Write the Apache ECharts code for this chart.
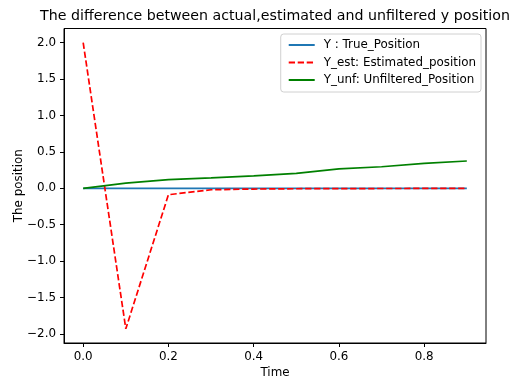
<!DOCTYPE html>
<html>
<head>
<meta charset="utf-8">
<script src="https://cdn.jsdelivr.net/npm/echarts@6/dist/echarts.min.js"></script>
<style>
html,body{margin:0;padding:0;background:#fff;}
#chart{width:511px;height:378px;}
</style>
</head>
<body>
<div id="chart"></div>
<script>
var times = [0.0, 0.1, 0.2, 0.3, 0.4, 0.5, 0.6, 0.7, 0.8, 0.9];
var yTrue = [0, 0, 0, 0, 0, 0, 0, 0, 0, 0];
var yEst = [2.0, -1.93, -0.088, -0.02, -0.01, -0.006, -0.004, -0.003, -0.002, -0.002];
var yUnf = [0.0, 0.072, 0.12, 0.144, 0.171, 0.204, 0.268, 0.296, 0.343, 0.375];
var xTicks = [0.0, 0.2, 0.4, 0.6, 0.8];
var yTicks = [-2.0, -1.5, -1.0, -0.5, 0.0, 0.5, 1.0, 1.5, 2.0];
var seriesNames = ['Y : True_Position', 'Y_est: Estimated_position', 'Y_unf: Unfiltered_Position'];

function pairs(ys){ return times.map(function(t,i){ return [t, ys[i]]; }); }
function fmt(v){ var s = Math.abs(v).toFixed(1); return (v < -1e-9 ? '\u2212' : '') + s; }

var font = 'DejaVu Sans';
var chart = echarts.init(document.getElementById('chart'), null, {renderer:'canvas'});
chart.setOption({
  animation: false,
  backgroundColor: '#fff',
  title: {
    text: 'The difference between actual,estimated and unfiltered y position',
    left: 275, textAlign: 'center', top: 9, padding: 0,
    textStyle: {fontFamily: font, fontSize: 14.2, fontWeight: 'normal', color: '#000'}
  },
  legend: {
    orient: 'vertical', right: 30, top: 34,
    data: seriesNames,
    itemWidth: 26, itemHeight: 10, itemGap: 5.5,
    padding: [5, 5, 6, 7],
    backgroundColor: 'rgba(255,255,255,0.8)',
    borderColor: '#d0d0d0', borderWidth: 1, borderRadius: 3,
    itemStyle: {color: 'rgba(0,0,0,0)', borderColor: 'rgba(0,0,0,0)', borderWidth: 0},
    textStyle: {fontFamily: font, fontSize: 11.9, color: '#000', padding: [0,0,0,4]}
  },
  grid: {left: 64, right: 25, top: 28.5, bottom: 35, outerBoundsMode: 'none', containLabel: false,
    show: true, borderColor: '#000', borderWidth: 1, backgroundColor: 'transparent'},
  xAxis: {
    type: 'value', min: -0.045, max: 0.945,
    name: 'Time', nameLocation: 'middle', nameGap: 24, nameMoveOverlap: false,
    nameTextStyle: {fontFamily: font, fontSize: 11.9, color: '#000'},
    axisLine: {show: true, onZero: false, lineStyle: {color: '#000', width: 1}},
    axisTick: {show: true, length: 4, customValues: xTicks, lineStyle: {color: '#000'}},
    axisLabel: {customValues: xTicks, fontFamily: font, fontSize: 11.9, color: '#000', margin: 8,
      formatter: function(v){ return fmt(v); }},
    splitLine: {show: false}
  },
  yAxis: {
    type: 'value', min: -2.125, max: 2.195,
    name: 'The position', nameLocation: 'middle', nameGap: 39, nameRotate: 90, nameMoveOverlap: false,
    nameTextStyle: {fontFamily: font, fontSize: 11.9, color: '#000'},
    axisLine: {show: true, onZero: false, lineStyle: {color: '#000', width: 1}},
    axisTick: {show: true, length: 4, customValues: yTicks, lineStyle: {color: '#000'}},
    axisLabel: {customValues: yTicks, fontFamily: font, fontSize: 11.9, color: '#000', margin: 8,
      formatter: function(v){ return fmt(v); }},
    splitLine: {show: false}
  },
  series: [
    {name: seriesNames[0], type: 'line', data: pairs(yTrue), symbol: 'none', showSymbol: false,
     lineStyle: {color: '#1f77b4', width: 1.7}, itemStyle: {color: '#1f77b4'}, z: 2},
    {name: seriesNames[1], type: 'line', data: pairs(yEst), symbol: 'none', showSymbol: false,
     lineStyle: {color: '#ff0000', width: 1.7, type: [6.3, 2.7]}, itemStyle: {color: '#ff0000'}, z: 3},
    {name: seriesNames[2], type: 'line', data: pairs(yUnf), symbol: 'none', showSymbol: false,
     lineStyle: {color: '#008000', width: 1.7}, itemStyle: {color: '#008000'}, z: 4}
  ]
});
</script>
</body>
</html>
